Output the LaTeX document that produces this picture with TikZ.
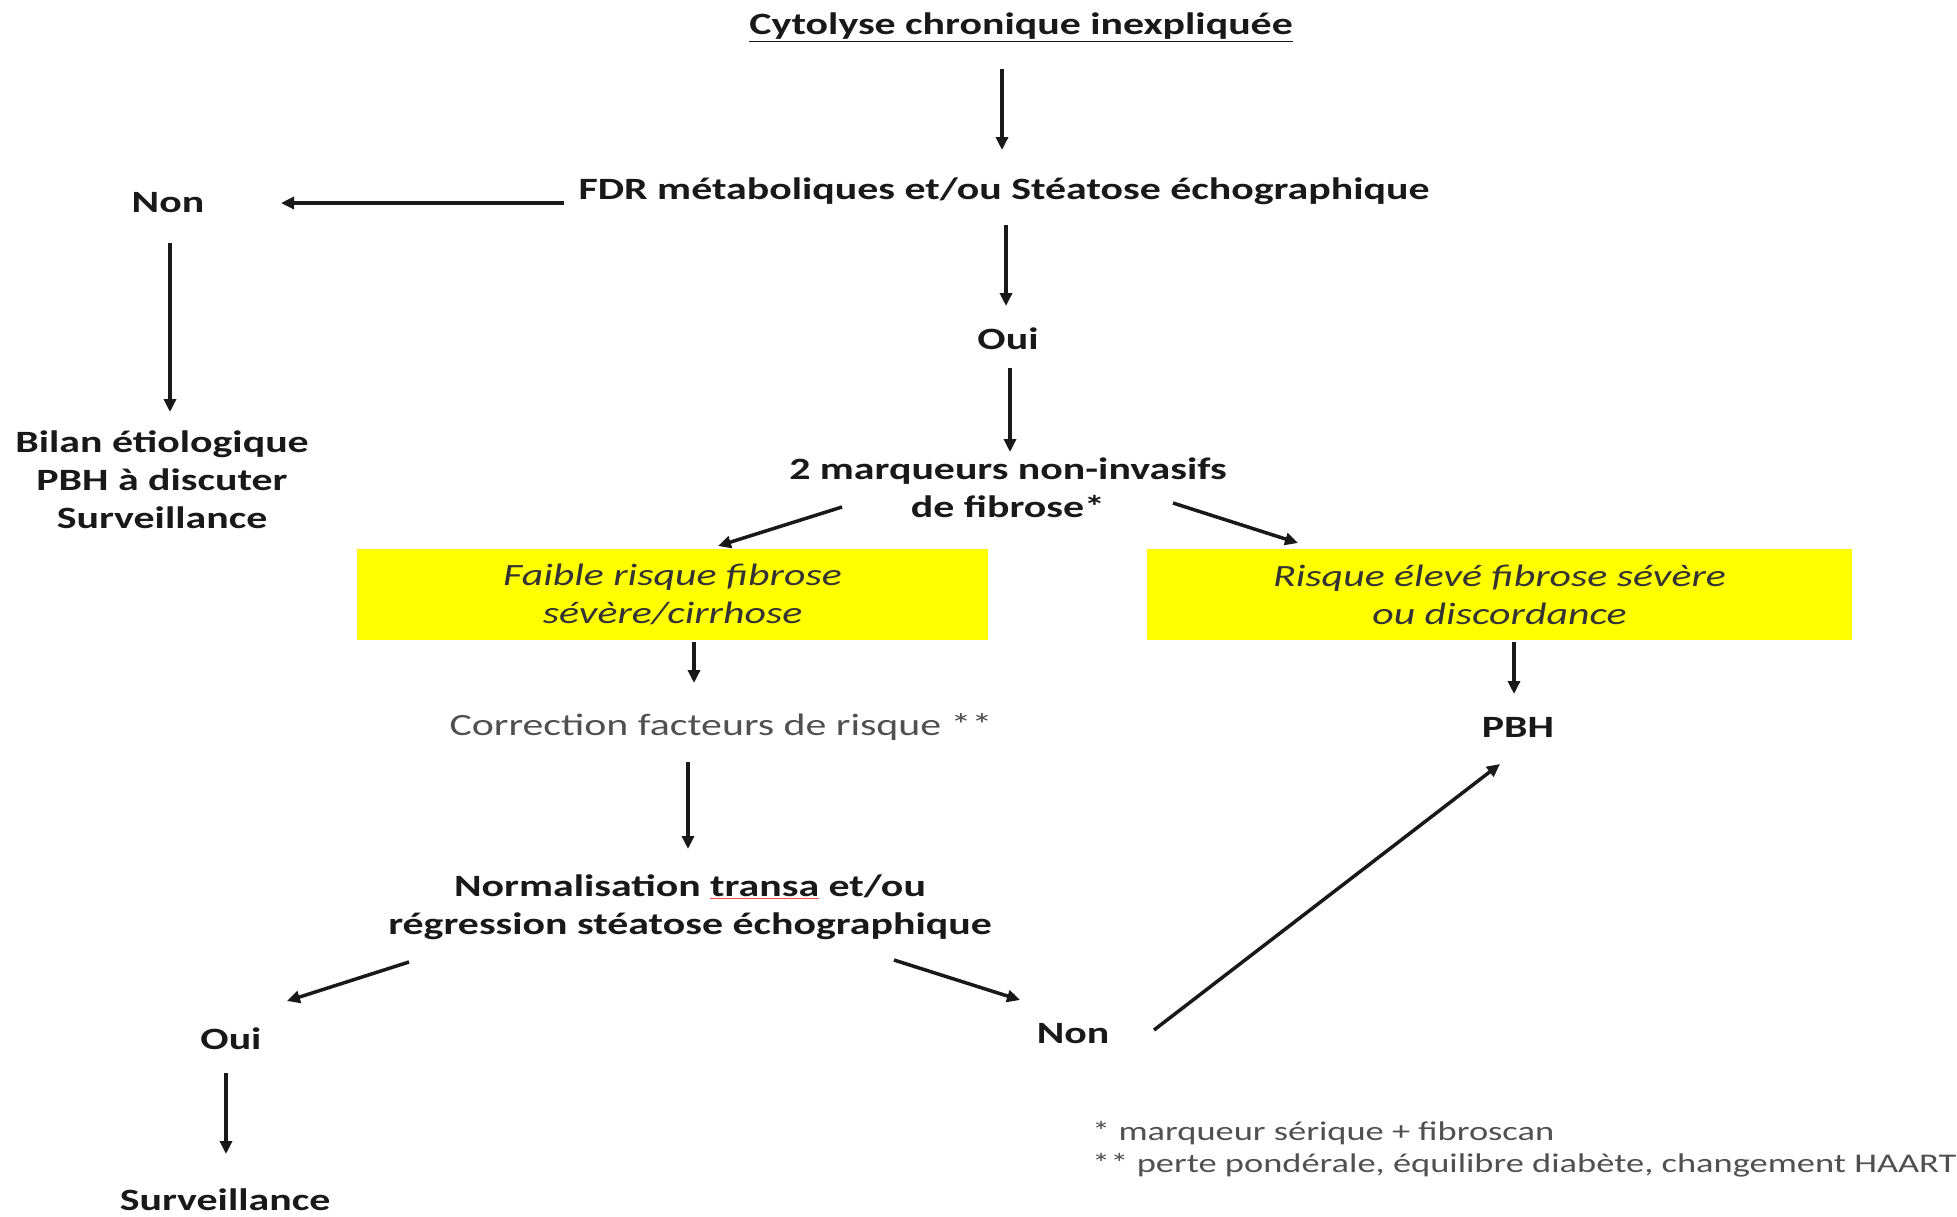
\documentclass[tikz,border=0pt]{standalone}
\usepackage{fontspec}
\setmainfont{Carlito}[FakeStretch=1.35]
\usetikzlibrary{arrows.meta}
\definecolor{boxyellow}{RGB}{255,255,0}
\definecolor{txtgray}{RGB}{80,80,80}
\begin{document}
\begin{tikzpicture}[x=1pt,y=-1pt,
  lbl/.style={font=\fontsize{31}{38}\selectfont\bfseries, align=center, inner sep=2pt, text=black!90},
  plain/.style={font=\fontsize{31}{38}\selectfont, align=center, inner sep=2pt, text=txtgray},
  ybox/.style={fill=boxyellow, minimum height=91pt, align=center, font=\fontsize{31}{38}\selectfont\itshape, text=black!80},
  note/.style={font=\fontsize{27}{32}\selectfont, align=left, anchor=west, text=txtgray, inner sep=0pt},
  arr/.style={-{Triangle[length=13pt,width=12pt]}, line width=3.5pt, black!90}]
\useasboundingbox (0,0) rectangle (1957,1216);
\node[lbl] (title) at (1021,27) {\underline{Cytolyse chronique inexpliquée}};
\node[lbl] (fdr) at (1004,191) {FDR métaboliques et/ou Stéatose échographique};
\node[lbl] (non1) at (168,203) {Non};
\node[lbl] (bilan) at (162,480) {Bilan étiologique\\PBH à discuter\\Surveillance};
\node[lbl] (oui1) at (1008,339) {Oui};
\node[lbl] (marq) at (1008,488) {2 marqueurs non-invasifs\\de fibrose*};
\node[ybox, minimum width=631pt] (faible) at (672.5,594.5) {Faible risque fibrose\\sévère/cirrhose};
\node[ybox, minimum width=705pt] (eleve) at (1499.5,594.5) {Risque élevé fibrose sévère\\ou discordance};
\node[plain] (corr) at (721,727) {Correction facteurs de risque **};
\node[lbl] (pbh) at (1518,727) {PBH};
\node[lbl] (norm) at (690,907) {Normalisation {\color{red!70}\underline{\color{black!90}transa}} et/ou\\régression stéatose échographique};
\node[lbl] (oui2) at (231,1039) {Oui};
\node[lbl] (non2) at (1073,1034) {Non};
\node[lbl] (surv) at (225,1200) {Surveillance};
\node[note] (n1) at (1092,1133) {* marqueur sérique + fibroscan};
\node[note] (n2) at (1092,1165) {** perte pondérale, équilibre diabète, changement HAART};

\coordinate (a1s) at (1002,69); \coordinate (a1e) at (1002,150);
\draw[arr] (a1s) -- (a1e);
\coordinate (a2s) at (564,203); \coordinate (a2e) at (281,203);
\draw[arr] (a2s) -- (a2e);
\coordinate (a3s) at (170,243); \coordinate (a3e) at (170,412);
\draw[arr] (a3s) -- (a3e);
\coordinate (a4s) at (1006,225); \coordinate (a4e) at (1006,306);
\draw[arr] (a4s) -- (a4e);
\coordinate (a5s) at (1010,368); \coordinate (a5e) at (1010,452);
\draw[arr] (a5s) -- (a5e);
\coordinate (a6s) at (842,507); \coordinate (a6e) at (718,546);
\draw[arr] (a6s) -- (a6e);
\coordinate (a7s) at (1173,503); \coordinate (a7e) at (1298,543);
\draw[arr] (a7s) -- (a7e);
\coordinate (a8s) at (694,642); \coordinate (a8e) at (694,683);
\draw[arr] (a8s) -- (a8e);
\coordinate (a9s) at (1514,642); \coordinate (a9e) at (1514,694);
\draw[arr] (a9s) -- (a9e);
\coordinate (a10s) at (688,762); \coordinate (a10e) at (688,849);
\draw[arr] (a10s) -- (a10e);
\coordinate (a11s) at (409,962); \coordinate (a11e) at (287,1001);
\draw[arr] (a11s) -- (a11e);
\coordinate (a12s) at (894,960); \coordinate (a12e) at (1020,1000);
\draw[arr] (a12s) -- (a12e);
\coordinate (a13s) at (1154,1030); \coordinate (a13e) at (1500,764);
\draw[arr] (a13s) -- (a13e);
\coordinate (a14s) at (226,1073); \coordinate (a14e) at (226,1154);
\draw[arr] (a14s) -- (a14e);
\end{tikzpicture}
\end{document}
